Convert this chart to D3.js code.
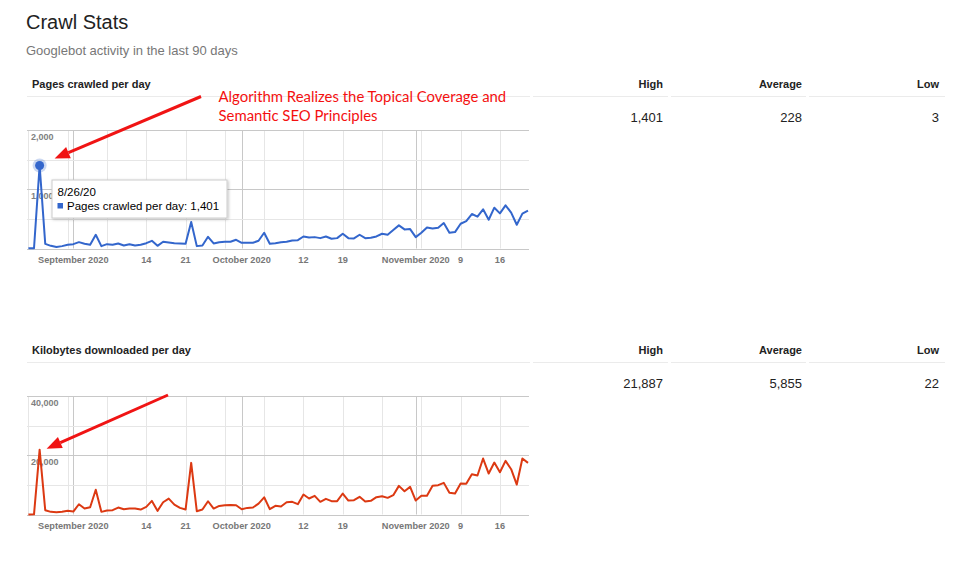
<!DOCTYPE html>
<html>
<head>
<meta charset="utf-8">
<script src="https://cdn.jsdelivr.net/npm/d3@7"></script>
<style>
  body { margin: 0; background: #fff; }
  svg { display: block; font-family: Arial, "Liberation Sans", sans-serif; }
</style>
</head>
<body>
<svg id="viz" width="964" height="561"></svg>
<script>
// 90 days of crawl data, Aug 24 - Nov 21 2020
const startDate = new Date(2020, 7, 24);

const pagesCrawled = [
  3, 4, 1401, 79, 45, 25, 40, 62, 73, 107, 79, 62, 232, 40, 73, 62, 85, 51, 73, 51,
  62, 90, 130, 45, 113, 102, 90, 85, 79, 446, 40, 51, 198, 85, 107, 113, 113, 147, 96, 96,
  96, 130, 266, 79, 90, 107, 113, 136, 141, 203, 186, 192, 175, 203, 164, 175, 249, 175, 170, 232,
  175, 181, 203, 249, 232, 311, 390, 322, 328, 192, 266, 356, 339, 350, 429, 266, 277, 418, 463, 582,
  537, 661, 486, 689, 593, 729, 605, 401, 588, 638
];

const kbDownloaded = [
  22, 60, 21887, 1452, 894, 782, 894, 1229, 1005, 3463, 2011, 2457, 8378, 894, 1340, 1452, 2346, 1787, 2011, 2011,
  1676, 2569, 4580, 1229, 4133, 5362, 3351, 2234, 1676, 17425, 1117, 1676, 4468, 2011, 2904, 3128, 3239, 3128, 1787, 2234,
  2346, 3686, 5808, 1798, 2922, 2698, 4159, 4271, 3484, 6744, 5395, 6294, 4271, 5283, 4496, 4496, 7081, 4721, 4833, 5957,
  4384, 4608, 5845, 6182, 5620, 6519, 9666, 7868, 9329, 4721, 6294, 6294, 9666, 9891, 10678, 7306, 7081, 10453, 10341, 13600,
  13151, 18883, 13825, 17534, 14275, 18096, 15286, 10116, 18883, 17422
];

const statLabels = ['High', 'Average', 'Low'];
const pagesStats = ['1,401', '228', '3'];
const kbStats = ['21,887', '5,855', '22'];

const xTickDates = ['2020-09-01', '2020-09-14', '2020-09-21', '2020-10-01', '2020-10-12', '2020-10-19', '2020-11-01', '2020-11-09', '2020-11-16'];
const xTickLabels = ['September 2020', '14', '21', 'October 2020', '12', '19', 'November 2020', '9', '16'];

const pagesTicks = [0, 500, 1000, 1500, 2000];
const pagesTickLabels = ['', '', '1,000', '', '2,000'];
const kbTicks = [0, 10000, 20000, 30000, 40000];
const kbTickLabels = ['', '', '20,000', '', '40,000'];

const dates = pagesCrawled.map((_, i) => d3.timeDay.offset(startDate, i));
const parse = d3.timeParse('%Y-%m-%d');

const svg = d3.select('#viz');

// header
svg.append('text').attr('x', 26).attr('y', 29).attr('font-size', 20).attr('fill', '#222').text('Crawl Stats');
svg.append('text').attr('x', 26).attr('y', 55).attr('font-size', 13).attr('fill', '#777').text('Googlebot activity in the last 90 days');

const x = d3.scaleTime().domain([dates[0], dates[dates.length - 1]]).range([28.4, 528]);
const px = v => Math.round(v) + 0.5;

function section(offset, title, values, stats, ticks, tickLabels, color) {
  const g = svg.append('g').attr('transform', `translate(0,${offset})`);

  // title + stats table
  g.append('text').attr('x', 32).attr('y', 87.5).attr('font-size', 11).attr('font-weight', 'bold')
    .attr('fill', '#222').text(title);
  const colRight = [663, 802, 939];
  const segs = [[27, 530], [533, 668], [671, 806], [809, 945]];
  g.selectAll('line.sep').data(segs).enter().append('line')
    .attr('x1', d => d[0]).attr('x2', d => d[1]).attr('y1', 96.5).attr('y2', 96.5)
    .attr('stroke', '#ebebeb');
  g.selectAll('text.head').data(statLabels).enter().append('text')
    .attr('x', (d, i) => colRight[i]).attr('y', 87.5).attr('text-anchor', 'end')
    .attr('font-size', 11).attr('font-weight', 'bold').attr('fill', '#222').text(d => d);
  g.selectAll('text.val').data(stats).enter().append('text')
    .attr('x', (d, i) => colRight[i]).attr('y', 121.5).attr('text-anchor', 'end')
    .attr('font-size', 13).attr('fill', '#222').text(d => d);

  // chart
  const y = d3.scaleLinear().domain([0, ticks[ticks.length - 1]]).range([248.5, 130]);
  const grid = g.append('g');

  // vertical grid: weekly (Mondays) light, months darker
  const weeks = d3.timeMonday.range(dates[0], dates[dates.length - 1]);
  grid.selectAll('line.wk').data(weeks).enter().append('line')
    .attr('x1', d => px(x(d))).attr('x2', d => px(x(d)))
    .attr('y1', y.range()[1]).attr('y2', y.range()[0]).attr('stroke', '#e6e6e6');
  const months = d3.timeMonth.range(dates[0], dates[dates.length - 1]);
  grid.selectAll('line.mo').data(months).enter().append('line')
    .attr('x1', d => px(x(d))).attr('x2', d => px(x(d)))
    .attr('y1', y.range()[1]).attr('y2', y.range()[0]).attr('stroke', '#c8c8c8');

  // horizontal grid
  grid.selectAll('line.h').data(ticks).enter().append('line')
    .attr('x1', 27).attr('x2', 529).attr('y1', d => px(y(d))).attr('y2', d => px(y(d)))
    .attr('stroke', (d, i) => i % 2 === 0 ? '#c8c8c8' : '#e6e6e6');

  // y labels inside plot
  g.selectAll('text.yl').data(ticks).enter().append('text')
    .attr('x', 31).attr('y', d => y(d) + 10).attr('font-size', 9).attr('font-weight', 'bold')
    .attr('fill', '#808080').text((d, i) => tickLabels[i]);

  // x labels
  g.selectAll('text.xl').data(xTickDates).enter().append('text')
    .attr('x', d => x(parse(d))).attr('y', 263).attr('text-anchor', 'middle')
    .attr('font-size', 9.2).attr('font-weight', 'bold').attr('fill', '#777')
    .text((d, i) => xTickLabels[i]);

  // series line
  const line = d3.line().x((d, i) => x(dates[i])).y(d => y(d));
  g.append('path').datum(values).attr('d', line).attr('fill', 'none')
    .attr('stroke', color).attr('stroke-width', 2).attr('stroke-linejoin', 'round');

  const peak = d3.maxIndex(values);
  return { g, peakX: x(dates[peak]), peakY: y(values[peak]), peak };
}

function arrow(g, x1, y1, x2, y2) {
  const a = Math.atan2(y2 - y1, x2 - x1);
  const L = 15, w = 6;
  const bx = x2 - L * Math.cos(a), by = y2 - L * Math.sin(a);
  g.append('line').attr('x1', x1).attr('y1', y1).attr('x2', bx).attr('y2', by)
    .attr('stroke', '#f01414').attr('stroke-width', 3);
  const nx = -Math.sin(a) * w, ny = Math.cos(a) * w;
  g.append('polygon')
    .attr('points', [[x2, y2], [bx + nx, by + ny], [bx - nx, by - ny]].map(p => p.join(',')).join(' '))
    .attr('fill', '#f01414');
}

const pagesChart = section(0, 'Pages crawled per day', pagesCrawled, pagesStats, pagesTicks, pagesTickLabels, '#3366cc');
const kbChart = section(266, 'Kilobytes downloaded per day', kbDownloaded, kbStats, kbTicks, kbTickLabels, '#dc3912');

// annotation
const ann = svg.append('g').attr('font-family', 'Lato, "Open Sans", sans-serif').attr('font-size', 14.9).attr('fill', '#f41010');
ann.append('text').attr('x', 218.5).attr('y', 102).text('Algorithm Realizes the Topical Coverage and');
ann.append('text').attr('x', 218.5).attr('y', 120.5).text('Semantic SEO Principles');

arrow(pagesChart.g, 201, 96.5, pagesChart.peakX + 15, pagesChart.peakY - 7);
arrow(kbChart.g, 168, 129, kbChart.peakX + 7, kbChart.peakY - 1);

// highlighted point + tooltip
pagesChart.g.append('circle').attr('cx', pagesChart.peakX).attr('cy', pagesChart.peakY).attr('r', 7)
  .attr('fill', '#3366cc').attr('opacity', 0.25);
pagesChart.g.append('circle').attr('cx', pagesChart.peakX).attr('cy', pagesChart.peakY).attr('r', 4.5).attr('fill', '#3366cc');

const defs = svg.append('defs');
const f = defs.append('filter').attr('id', 'shadow').attr('x', '-10%').attr('y', '-20%').attr('width', '130%').attr('height', '160%');
f.append('feDropShadow').attr('dx', 1).attr('dy', 1).attr('stdDeviation', 1.5).attr('flood-color', '#000').attr('flood-opacity', 0.25);

const tip = pagesChart.g.append('g').attr('transform', 'translate(52,180)');
tip.append('rect').attr('width', 175).attr('height', 38).attr('fill', '#fff')
  .attr('stroke', '#cccccc').attr('filter', 'url(#shadow)');
tip.append('text').attr('x', 5.5).attr('y', 16).attr('font-size', 11.5)
  .attr('fill', '#000').text(d3.timeFormat('%-m/%-d/%y')(dates[pagesChart.peak]));
tip.append('rect').attr('x', 5.5).attr('y', 23).attr('width', 5.5).attr('height', 5.5).attr('fill', '#3366cc');
tip.append('text').attr('x', 15).attr('y', 29.5).attr('font-size', 11.5)
  .attr('fill', '#000').text('Pages crawled per day: ' + d3.format(',')(pagesCrawled[pagesChart.peak]));
</script>
</body>
</html>
